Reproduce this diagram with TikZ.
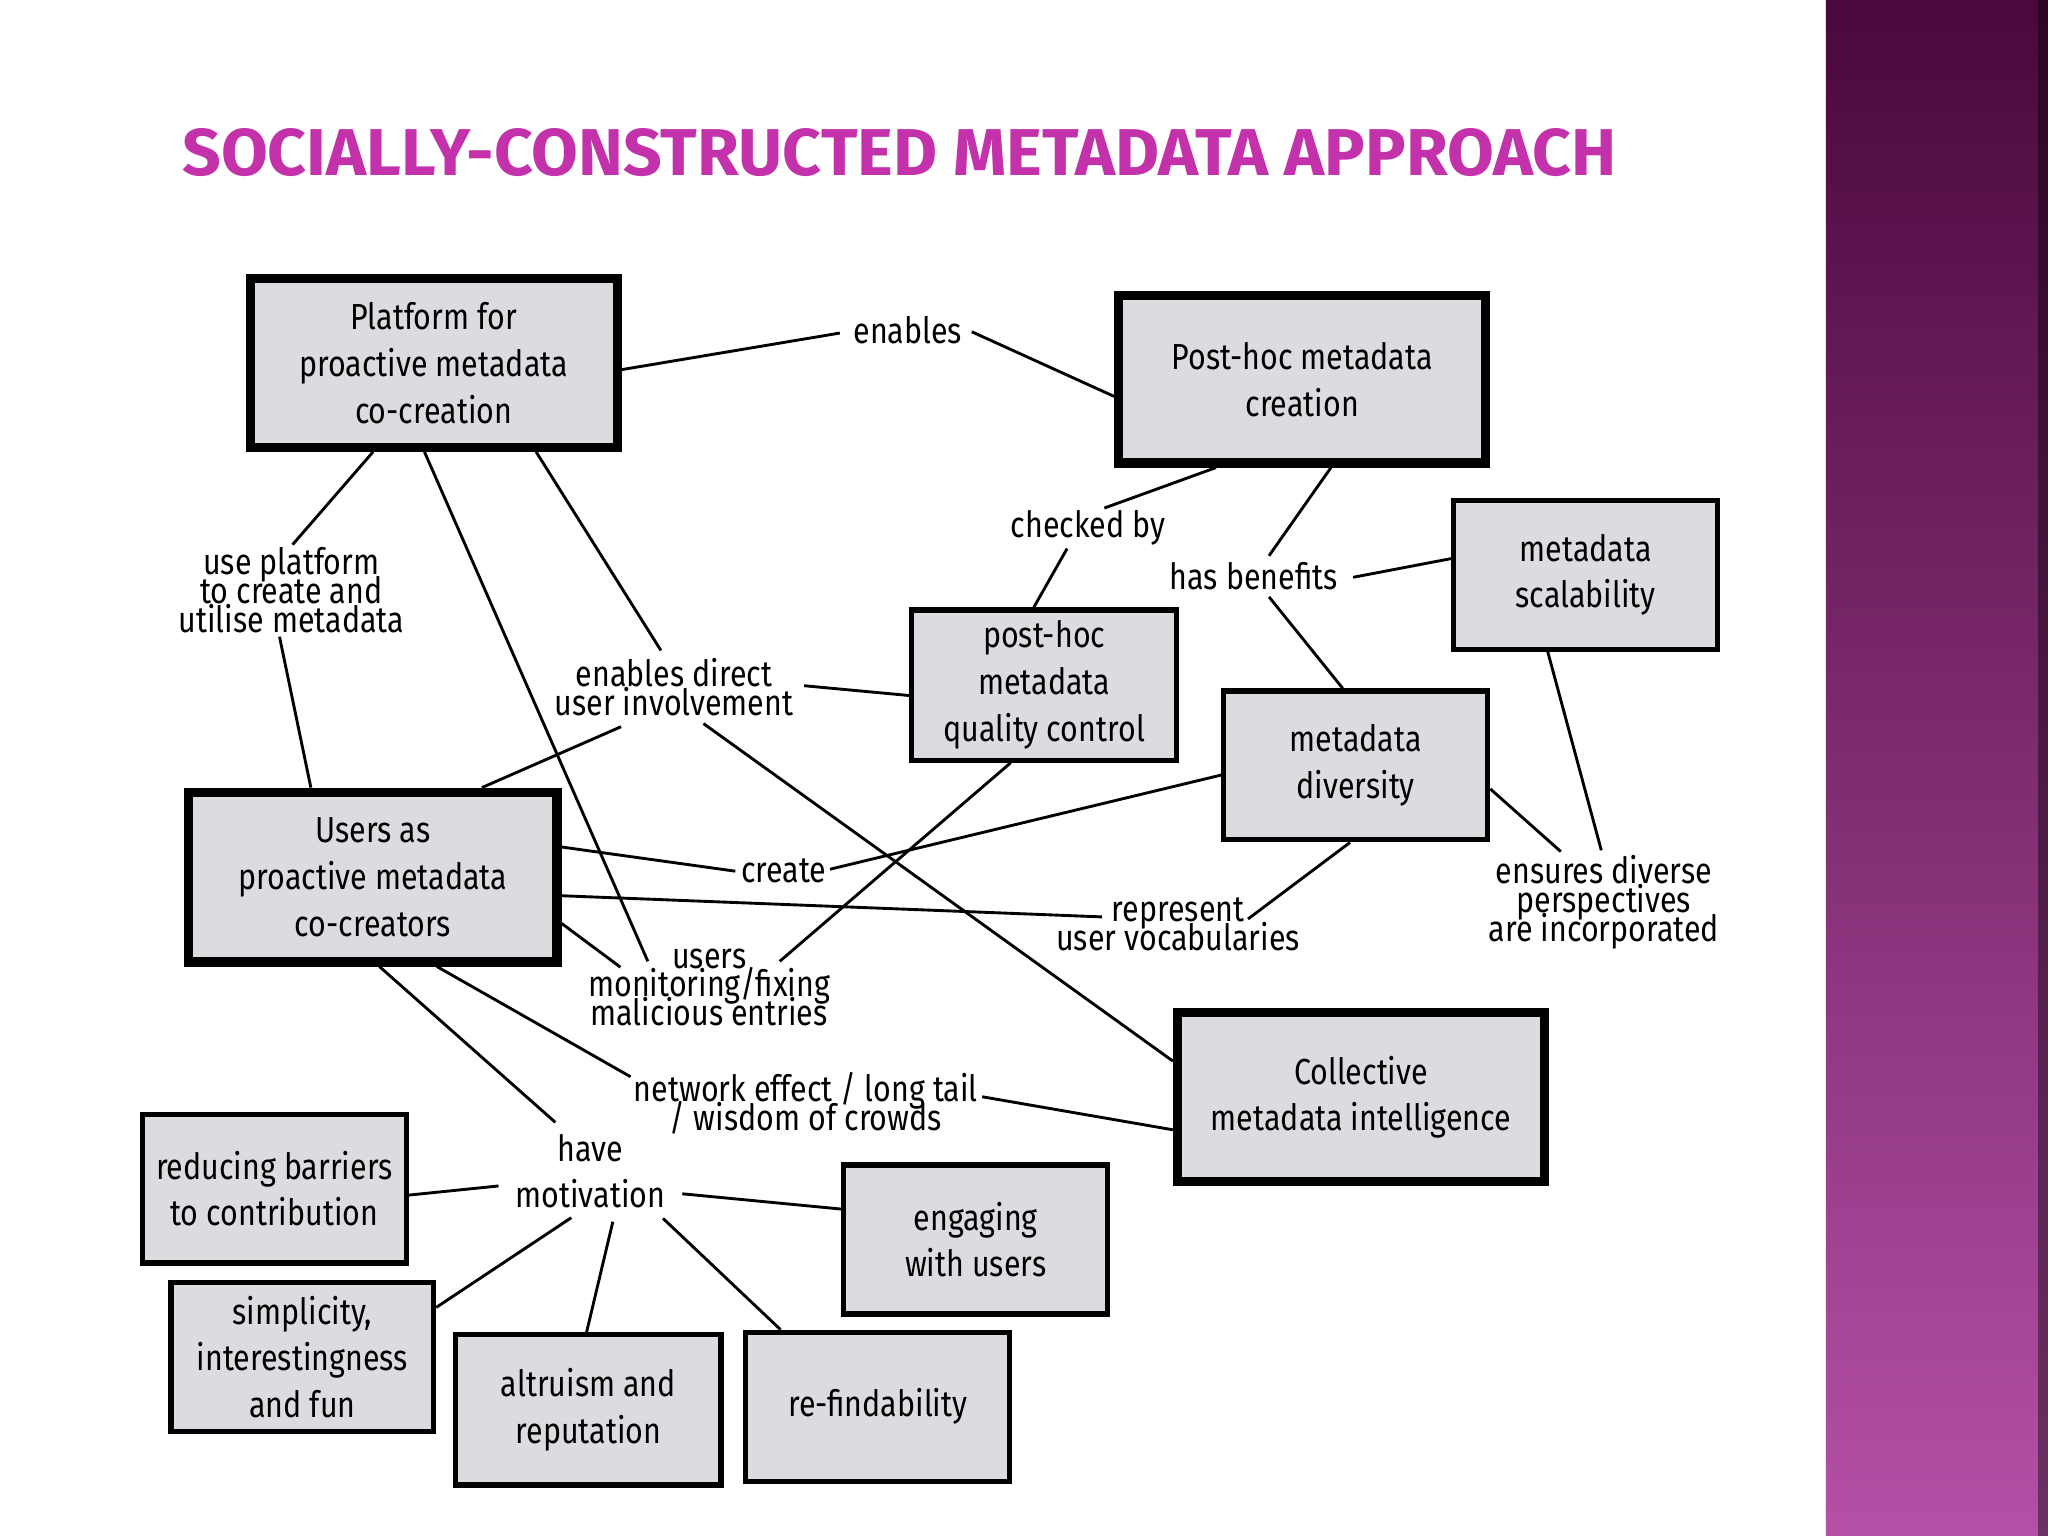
\documentclass[tikz,border=0pt]{standalone}
\usepackage{fontspec}
\setmainfont{Fira Sans}[FakeStretch=0.84]
\usetikzlibrary{calc}
\definecolor{boxgray}{RGB}{220,219,223}
\definecolor{titlemag}{RGB}{195,50,170}
\definecolor{bandtop}{RGB}{74,8,60}
\definecolor{bandmid}{RGB}{128,48,115}
\definecolor{bandbot}{RGB}{180,80,166}
\newlength\unitpx
\setlength\unitpx{0.0130612cm}
\newcommand\mytightlines{\lineskiplimit=-1000pt\relax}
\tikzset{
  boxfont/.style={font=\fontsize{10.3}{13.3}\selectfont},
  thickbox/.style={draw=black, fill=boxgray, line width=7\unitpx, align=center, inner sep=0pt, boxfont},
  thinbox/.style={draw=black, fill=boxgray, line width=4\unitpx, align=center, inner sep=0pt, boxfont},
  lbl/.style={align=center, inner sep=0pt, font=\fontsize{10.3}{8.2}\selectfont\mytightlines},
  conn/.style={draw=black, line width=2.2\unitpx},
}
\begin{document}
\begin{tikzpicture}[x=0.0130612cm, y=-0.0130612cm]
\useasboundingbox (0,0) rectangle (1568,1176);
\fill[white] (0,0) rectangle (1568,1176);
% side band
\shade[top color=bandtop, middle color=bandmid, bottom color=bandbot] (1398,0) rectangle (1568,1176);
\fill[black, opacity=0.4] (1560,0) rectangle (1568,1176);
% title
\node[anchor=south west, inner sep=0pt, text=titlemag] (title) at (139,135.5)
  {\resizebox{1098\unitpx}{36\unitpx}{\bfseries SOCIALLY-CONSTRUCTED METADATA APPROACH}};
% boxes
\node[thickbox, minimum width=281\unitpx, minimum height=129\unitpx] (plat) at (332,278) {Platform for\\proactive metadata\\co-creation};
\node[thickbox, minimum width=281\unitpx, minimum height=128\unitpx] (post) at (997,290.5) {Post-hoc metadata\\creation};
\node[thinbox, minimum width=202\unitpx, minimum height=114\unitpx] (scal) at (1214,440) {metadata\\scalability};
\node[thinbox, minimum width=203\unitpx, minimum height=115\unitpx] (qc) at (799.5,524.5) {post-hoc\\metadata\\quality control};
\node[thinbox, minimum width=202\unitpx, minimum height=114\unitpx] (div) at (1038,586) {metadata\\diversity};
\node[thickbox, minimum width=282\unitpx, minimum height=130\unitpx] (users) at (285.5,671.5) {Users as\\proactive metadata\\co-creators};
\node[thickbox, minimum width=281\unitpx, minimum height=129\unitpx] (coll) at (1042,840) {Collective\\metadata intelligence};
\node[thinbox, minimum width=202\unitpx, minimum height=114\unitpx] (red) at (210,910) {reducing barriers\\to contribution};
\node[thinbox, minimum width=202\unitpx, minimum height=114\unitpx] (eng) at (747,949) {engaging\\with users};
\node[thinbox, minimum width=201\unitpx, minimum height=114\unitpx] (simp) at (231.5,1039) {simplicity,\\interestingness\\and fun};
\node[thinbox, minimum width=203\unitpx, minimum height=115\unitpx] (alt) at (450.5,1079.5) {altruism and\\reputation};
\node[thinbox, minimum width=202\unitpx, minimum height=114\unitpx] (refind) at (672,1077) {re-findability};
% labels
\node[lbl] (enab) at (695,253) {enables};
\node[lbl] (chk) at (833,404) {checked by};
\node[lbl] (hasb) at (960,441) {has benefits};
\node[lbl] (usep) at (223,452) {use platform\\to create and\\utilise metadata};
\node[lbl] (edir) at (516,526) {enables direct\\user involvement};
\node[lbl] (create) at (600,667) {create};
\node[lbl] (repr) at (902,708) {represent\\user vocabularies};
\node[lbl] (umon) at (543,756) {users\\monitoring/fixing\\malicious entries};
\node[lbl] (ens) at (1228,691) {ensures diverse\\perspectives\\are incorporated};
\node[lbl] (netw) at (617,845) {network effect / long tail\\/ wisdom of crowds};
\node[lbl, font=\fontsize{10.3}{13.1}\selectfont] (havem) at (452,897) {have\\motivation};
% connectors
\draw[conn] ($(plat.east)+(0,5)$) -- ($(enab)+(-52,2)$);
\draw[conn] ($(enab)+(49,1)$) -- ($(post.west)+(0,13)$);
\draw[conn] ($(plat.south)+(-46.4,0)$) -- ($(usep)+(1,-35)$);
\draw[conn] ($(usep)+(-9,35.5)$) -- ($(users.north)+(-47.5,0)$);
\draw[conn] ($(plat.south)+(-7,0)$) -- ($(umon)+(-47,-20)$);
\draw[conn] ($(plat.south)+(78.5,0)$) -- ($(edir)+(-10,-28)$);
\draw[conn] ($(edir)+(99.6,-1)$) -- ($(qc.west)+(0,8)$);
\draw[conn] ($(edir)+(-40.5,30.4)$) -- ($(users.north)+(83.5,0)$);
\draw[conn] ($(edir)+(22.6,28)$) -- ($(coll.west)+(0,-27.6)$);
\draw[conn] ($(post.south)+(-66,0)$) -- ($(chk)+(12.5,-15)$);
\draw[conn] ($(chk)+(-16,16)$) -- ($(qc.north)+(-8,0)$);
\draw[conn] ($(post.south)+(22,0)$) -- ($(hasb)+(11.6,-15.5)$);
\draw[conn] ($(hasb)+(76,1)$) -- ($(scal.west)+(0,-12.3)$);
\draw[conn] ($(hasb)+(11.6,16)$) -- ($(div.north)+(-10,0)$);
\draw[conn] ($(users.east)+(0,-23)$) -- ($(create)+(-37,0)$);
\draw[conn] ($(create)+(35.5,-1.5)$) -- ($(div.west)+(0,7.4)$);
\draw[conn] ($(users.east)+(0,14.3)$) -- ($(repr)+(-58.4,-6)$);
\draw[conn] ($(repr)+(53.5,-4.4)$) -- ($(div.south)+(-4.4,0)$);
\draw[conn] ($(users.east)+(0,35.5)$) -- ($(umon)+(-68,-15.5)$);
\draw[conn] ($(qc.south)+(-25.7,0)$) -- ($(umon)+(54,-20)$);
\draw[conn] ($(div.east)+(0,18)$) -- ($(ens)+(-33,-39)$);
\draw[conn] ($(scal.south)+(-29,0)$) -- ($(ens)+(-2,-40)$);
\draw[conn] ($(users.south)+(49,0)$) -- ($(netw)+(-134.2,-20.6)$);
\draw[conn] ($(netw)+(135,-5.3)$) -- ($(coll.west)+(0,25)$);
\draw[conn] ($(users.south)+(5,0)$) -- ($(havem)+(-26.8,-37.7)$);
\draw[conn] ($(havem)+(-70.3,11)$) -- ($(red.east)+(0,5)$);
\draw[conn] ($(havem)+(70.4,17)$) -- ($(eng.west)+(0,-23.3)$);
\draw[conn] ($(havem)+(-14.6,35.3)$) -- ($(simp.east)+(0,-38)$);
\draw[conn] ($(havem)+(17.2,38.4)$) -- ($(alt.north)+(-1.4,0)$);
\draw[conn] ($(havem)+(55.6,35.8)$) -- ($(refind.north)+(-74.4,0)$);
\end{tikzpicture}
\end{document}
